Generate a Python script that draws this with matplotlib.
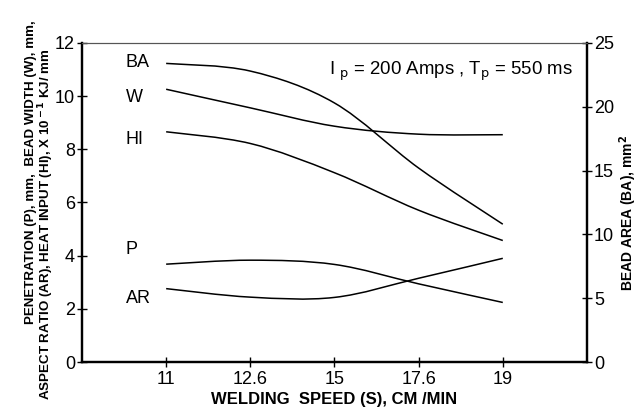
import matplotlib
matplotlib.use("Agg")
import matplotlib.pyplot as plt
import numpy as np
from matplotlib.path import Path
from matplotlib.patches import PathPatch

plt.rcParams['font.family'] = ['Liberation Sans', 'DejaVu Sans']

speeds = ["11", "12.6", "15", "17.6", "19"]
ba = [23.4, 22.8, 20.3, 15.2, 10.8]      # right axis, mm^2
w = [10.26, 9.56, 8.87, 8.57, 8.55]
hi = [8.66, 8.22, 7.12, 5.71, 4.57]
p = [3.68, 3.83, 3.67, 2.94, 2.24]
ar = [2.76, 2.44, 2.43, 3.15, 3.90]


def smooth_path(ax, xs, ys):
    # Excel-style smoothed line: cubic Bezier segments through the points
    pts = np.column_stack([xs, ys]).astype(float)
    ext = np.vstack([pts[0], pts, pts[-1]])
    verts = [pts[0]]
    codes = [Path.MOVETO]
    for i in range(len(pts) - 1):
        p0, p1, p2, p3 = ext[i], ext[i + 1], ext[i + 2], ext[i + 3]
        c1 = p1 + (p2 - p0) / 6
        c2 = p2 - (p3 - p1) / 6
        verts += [c1, c2, p2]
        codes += [Path.CURVE4] * 3
    patch = PathPatch(Path(verts, codes), facecolor='none', edgecolor='black', lw=1.1)
    ax.add_patch(patch)


fig = plt.figure(figsize=(6.38, 4.15), dpi=100)
ax = fig.add_axes([0.1285, 0.1277, 0.7915, 0.7687])
ax2 = ax.twinx()

x = np.arange(1, len(speeds) + 1)
for s in [w, hi, p, ar]:
    smooth_path(ax, x, s)
smooth_path(ax2, x, ba)

ax.set_xlim(0, 6)
ax.set_ylim(0, 12)
ax.set_yticks(range(0, 13, 2))
ax.set_xticks(x)
ax.set_xticklabels(speeds)
ax2.set_ylim(0, 25)
ax2.set_yticks(range(0, 26, 5))

for a in (ax, ax2):
    a.tick_params(direction='inout', length=7, width=1, labelsize=13, pad=1.5)
    for side in ('left', 'right', 'bottom'):
        a.spines[side].set_linewidth(1.6)
    a.spines['top'].set_linewidth(0.8)
    a.spines['top'].set_color('#555555')
ax.tick_params(axis='x', pad=3)

# series labels
for name, yv in [("BA", 11.28), ("W", 9.95), ("HI", 8.38), ("P", 4.24), ("AR", 2.39)]:
    ax.text(0.52, yv, name, fontsize=13, va='center', ha='left')

ax.text(2.94, 10.95, r"I $_{\rm p}$ = 200 Amps , T$_{\rm p}$ = 550 ms",
        fontsize=13.4, va='center', ha='left')

ax.set_xlabel("WELDING  SPEED (S), CM /MIN", fontsize=12, fontweight='bold', labelpad=3)
fig.text(0.049, 0.585, "PENETRATION (P), mm,  BEAD WIDTH (W), mm,", rotation=90,
         fontsize=9.6, fontweight='bold', ha='center', va='center')
fig.text(0.072, 0.46, r"ASPECT RATIO (AR), HEAT INPUT (HI), X 10$^{\bf -1}$ KJ/ mm", rotation=90,
         fontsize=9.6, fontweight='bold', ha='center', va='center')
fig.text(0.985, 0.487, r"BEAD AREA (BA), mm$^{\bf 2}$", rotation=90,
         fontsize=10, fontweight='bold', ha='center', va='center')

fig.savefig("out.png", dpi=100)
